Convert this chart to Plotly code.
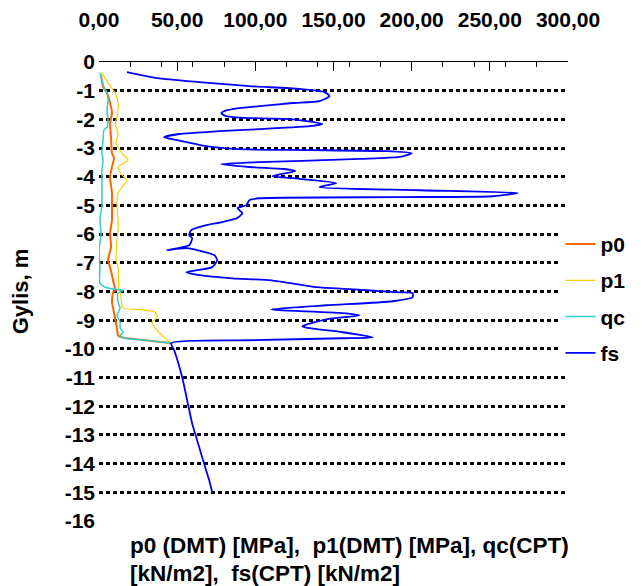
import plotly.graph_objects as go

# ---------------- data (value, depth) ----------------
p0_val = [1.3, 2.6, 5.1, 7.1, 8.3, 7.1, 7.7, 8.3, 9.6, 8.3, 7.1, 8.3, 8.3, 8.3, 7.1, 7.7, 5.8, 7.1, 9.0,
          10.3, 9.0, 8.3, 9.0, 10.3, 11.5, 12.2, 14.7, 29.5, 46.8]
p0_depth = [0.45, 0.87, 1.08, 1.43, 1.78, 2.13, 2.62, 3.18, 3.35, 3.66, 4.01, 4.57, 4.99, 5.51, 5.97, 6.45,
            6.91, 7.15, 7.61, 7.96, 8.03, 8.37, 8.58, 8.93, 9.28, 9.53, 9.60, 9.70, 9.80]

p1_val = [1.9, 5.8, 10.3, 12.2, 11.5, 10.3, 12.2, 10.9, 14.7, 18.6, 12.2, 14.7, 17.9, 14.7, 12.2, 11.5,
          12.2, 12.2, 11.5, 10.9, 12.2, 12.8, 13.5, 14.7, 15.4, 29.5, 35.9, 37.2, 34.0, 35.9, 40.4, 45.5]
p1_depth = [0.38, 0.73, 1.08, 1.43, 1.92, 2.13, 2.48, 2.83, 3.18, 3.42, 3.66, 3.94, 4.12, 4.36, 4.57, 4.99,
            5.51, 5.86, 6.21, 6.91, 7.15, 7.96, 8.03, 8.48, 8.58, 8.65, 8.72, 8.90, 9.07, 9.28, 9.53, 9.77]

qc_val = [0.6, 1.9, 3.2, 5.1, 5.8, 5.1, 5.8, 5.1, 3.2, 2.6, 1.9, 2.6, 1.9, 1.9, 1.9, 1.9, 1.9, 0.6, 1.3,
          0.0, 0.6, 0.6, 3.8, 10.3, 15.4, 12.2, 12.2, 13.5, 11.5, 13.5, 13.5, 15.4, 13.5, 16.7, 29.5, 46.8]
qc_depth = [0.38, 0.63, 0.87, 1.08, 1.33, 1.67, 2.02, 2.27, 2.37, 2.72, 3.18, 3.42, 3.77, 4.12, 4.57, 4.82,
            4.99, 5.51, 5.97, 6.56, 7.15, 7.71, 7.85, 7.92, 7.96, 8.06, 8.37, 8.58, 8.83, 9.07, 9.28, 9.42,
            9.53, 9.63, 9.70, 9.80]

fs_val = [17.9, 37.2, 64.1, 96.2, 128.2, 144.2, 147.4, 141.0, 123.7, 102.6, 89.7, 80.1, 78.2, 80.8, 92.9,
          121.8, 142.9, 136.5, 102.6, 76.9, 51.3, 41.7, 50.0, 68.6, 89.7, 134.6, 184.0, 200.0, 192.3, 166.7,
          102.6, 78.2, 96.2, 118.6, 125.6, 110.9, 123.7, 151.9, 141.0, 205.1, 267.9, 251.9, 192.3, 102.6,
          96.2, 94.2, 88.5, 91.7, 88.5, 78.8, 68.6, 59.0, 57.7, 59.6, 57.7, 43.6, 55.8, 73.7, 75.6, 72.4,
          55.8, 64.1, 85.3, 110.3, 139.1, 160.3, 192.3, 200.6, 200.6, 187.8, 145.5, 110.3, 115.4, 158.3,
          166.7, 145.5, 130.1, 134.6, 155.8, 175.0, 155.8, 96.2, 46.2, 48.1, 53.2, 56.4, 59.6, 62.2, 66.0,
          70.5, 72.4]
fs_depth = [0.35, 0.56, 0.70, 0.84, 0.94, 1.05, 1.19, 1.36, 1.43, 1.54, 1.61, 1.71, 1.78, 1.88, 1.95,
            1.99, 2.16, 2.23, 2.34, 2.41, 2.51, 2.62, 2.72, 2.93, 3.04, 3.07, 3.11, 3.18, 3.31, 3.38,
            3.49, 3.56, 3.66, 3.73, 3.80, 3.98, 4.05, 4.22, 4.36, 4.47, 4.57, 4.68, 4.71, 4.75,
            4.82, 4.99, 5.09, 5.27, 5.44, 5.58, 5.69, 5.86, 6.04, 6.14, 6.39, 6.56, 6.49, 6.73, 6.91, 7.15,
            7.33, 7.43, 7.54, 7.61, 7.85, 7.92, 8.03, 8.06, 8.20, 8.34, 8.48, 8.62, 8.65, 8.76,
            8.83, 8.97, 9.21, 9.28, 9.42, 9.60, 9.63, 9.70, 9.80, 10.05, 10.99, 11.79, 12.60, 13.08, 13.78,
            14.58, 15.0]

x_tickvals = [0, 50, 100, 150, 200, 250, 300]
x_ticktext = ["0,00", "50,00", "100,00", "150,00", "200,00", "250,00", "300,00"]
y_tickvals = list(range(0, -17, -1))
y_ticktext = [str(v) for v in y_tickvals]

series = [
    ("p0", p0_val, p0_depth, "#FF6600", 2.0),
    ("p1", p1_val, p1_depth, "#FFCC00", 1.2),
    ("qc", qc_val, qc_depth, "#33CCCC", 1.5),
    ("fs", fs_val, fs_depth, "#0000FF", 1.8),
]

FONT = "Liberation Sans, Arial, sans-serif"
FS = 21

fig = go.Figure()
for name, vals, depths, color, w in series:
    fig.add_trace(go.Scatter(
        x=vals, y=[-d for d in depths], mode="lines",
        name="<b>" + name + "</b>",
        legendgroup=name,
        line=dict(color=color, width=w, shape="spline", smoothing=0.6),
    ))

# page body has an 8px margin, so the figure content is shifted up/left by 8px
fig.update_layout(
    width=634, height=578,
    margin=dict(l=91, r=74, t=54, b=65, autoexpand=False),
    paper_bgcolor="white", plot_bgcolor="white",
    font=dict(family=FONT, size=FS, color="black"),
    showlegend=True,
    legend=dict(
        x=0.984, xanchor="left", y=0.484, yanchor="middle",
        bgcolor="white", borderwidth=0,
        font=dict(family=FONT, size=21, color="black"),
        tracegroupgap=6,
    ),
    xaxis=dict(
        side="top", range=[0, 300], automargin=False,
        tickvals=x_tickvals, ticktext=x_ticktext,
        tickfont=dict(family=FONT, size=FS, weight="bold"),
        ticks="inside", ticklen=9, tickcolor="black", tickwidth=1,
        minor=dict(dtick=20, tick0=0, ticks="inside", ticklen=5, tickcolor="black", showgrid=False),
        showline=True, linecolor="black", linewidth=1,
        showgrid=False, zeroline=False,
        ticklabelstandoff=26,
    ),
    yaxis=dict(
        range=[-16, 0], automargin=False,
        tickvals=y_tickvals, ticktext=y_ticktext,
        tickfont=dict(family=FONT, size=FS, weight="bold"),
        showgrid=True, gridcolor="black", gridwidth=2.6, griddash="4px,3px",
        showline=False, zeroline=False, ticks="",
        ticklabelstandoff=3,
        title=dict(text="Gylis, m", font=dict(family=FONT, size=22, weight="bold"), standoff=34),
    ),
)

fig.add_annotation(
    xref="paper", yref="paper", x=(128 - 99) / 469, y=(521 - 545) / 459,
    xanchor="left", yanchor="middle", showarrow=False,
    text="p0 (DMT) [MPa],  p1(DMT) [MPa], qc(CPT)",
    font=dict(family=FONT, size=22.5, weight="bold", color="black"),
)
fig.add_annotation(
    xref="paper", yref="paper", x=(128 - 99) / 469, y=(521 - 573) / 459,
    xanchor="left", yanchor="middle", showarrow=False,
    text="[kN/m2],  fs(CPT) [kN/m2]",
    font=dict(family=FONT, size=22.5, weight="bold", color="black"),
)

fig.write_html("out.html")
